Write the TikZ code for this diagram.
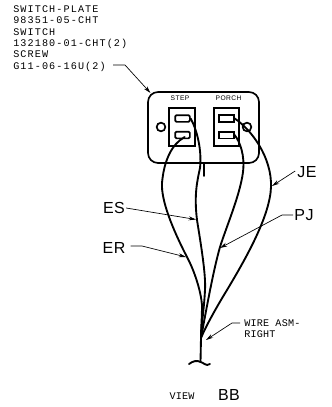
\documentclass[tikz,border=0pt]{standalone}
\usepackage{fontspec}
\setmainfont{Liberation Sans}
\newfontfamily\cadsmall[LetterSpace=6]{Liberation Sans}
\newfontfamily\cadbig[LetterSpace=3]{Liberation Sans}
\newfontfamily\cadmono[LetterSpace=11]{Liberation Mono}
\newfontfamily\cadasm[LetterSpace=2]{Liberation Mono}
\usetikzlibrary{arrows.meta}
\tikzset{
  wire/.style={line width=1.4pt,line cap=round,black},
  heavy/.style={line width=1.25pt,black},
  leader/.style={line width=0.5pt,black,-{Stealth[length=5.5pt,width=3pt]}},
  smalltxt/.style={font=\cadmono\fontsize{7.6}{8.5}\selectfont,inner sep=0pt,align=left,text=black},
  asmtxt/.style={font=\cadasm\fontsize{7.6}{8.5}\selectfont,inner sep=0pt,align=left,text=black},
  tinytxt/.style={font=\cadsmall\fontsize{5}{6}\selectfont,inner sep=0pt,text=black},
  bigtxt/.style={font=\cadbig\fontsize{12}{14}\selectfont,inner sep=0pt,text=black},
}
\begin{document}
\begin{tikzpicture}[x=0.75pt,y=-0.75pt]
\useasboundingbox (0,0) rectangle (332,407);
% plate
\node[draw,heavy,minimum width=83.25pt,minimum height=53.25pt,rounded corners=7.5pt,inner sep=0pt] (plate) at (203.5,127.5) {};
\node[tinytxt] (stepl) at (180,98.5) {STEP};
\node[tinytxt] (porchl) at (228.5,98.5) {PORCH};
\node[draw,heavy,circle,minimum size=6.5pt,inner sep=0pt] (screwL) at (161,127) {};
\node[draw,heavy,circle,minimum size=6.5pt,inner sep=0pt] (screwR) at (247,127) {};
% switches
\node[draw,heavy,minimum width=19.5pt,minimum height=28.5pt,inner sep=0pt] (swL) at (182,127) {};
\node[draw,heavy,minimum width=19pt,minimum height=28.5pt,inner sep=0pt] (swR) at (226.5,127) {};
\node[draw,heavy,minimum width=11pt,minimum height=5pt,inner sep=0pt,rounded corners=1pt] (slotA) at (182.5,118.5) {};
\node[draw,heavy,minimum width=11pt,minimum height=5pt,inner sep=0pt,rounded corners=1pt] (slotB) at (182.5,135) {};
\node[draw,heavy,minimum width=11pt,minimum height=5pt,inner sep=0pt] (slotC) at (226.5,118.5) {};
\node[draw,heavy,minimum width=11pt,minimum height=5pt,inner sep=0pt] (slotD) at (226.5,135) {};
% junction etc.
\coordinate (junc) at (201,338);
\coordinate (tail) at (200.5,362);
\coordinate (stubA) at (204,163);
\coordinate (stubB) at (204,176);
\draw[wire] (stubA) -- (stubB);
% wires
\draw[wire] (slotB.east) ++(-6,2) .. controls (172,144) and (164,160) .. (162,183)
  .. controls (161,200) and (172,228) .. (187,257)
  .. controls (195,272) and (201,292) .. (202,305)
  .. controls (202,318) and (201,328) .. (junc);
\draw[wire] (slotA.east) .. controls (197,130) and (202,150) .. (200,168)
  .. controls (197,182) and (194,195) .. (197,220)
  .. controls (201,245) and (206,275) .. (205,290)
  .. controls (204,310) and (201,328) .. (junc);
\draw[wire] (slotD.east) .. controls (240,142) and (245,155) .. (243,172)
  .. controls (240,195) and (227,225) .. (220,247)
  .. controls (214,268) and (208,300) .. (junc);
\draw[wire] (slotC.east) .. controls (252,130) and (272,158) .. (271,187)
  .. controls (270,215) and (248,255) .. (227,290)
  .. controls (216,308) and (206,326) .. (junc);
\draw[wire] (junc) -- (tail);
\draw[wire] (189,364) .. controls (193,361) and (197,360) .. (tail)
  .. controls (203,362) and (206,367) .. (210,364);
% labels
\node[smalltxt,anchor=north west] (parts) at (13,5.5) {SWITCH-PLATE\\98351-05-CHT\\SWITCH\\132180-01-CHT(2)\\SCREW\\G11-06-16U(2)};
\node[bigtxt] (es) at (114,208) {ES};
\node[bigtxt] (er) at (114,248) {ER};
\node[bigtxt] (pj) at (304,215) {PJ};
\node[bigtxt] (je) at (307,172) {JE};
\node[asmtxt,anchor=west] (wasm) at (244,328.5) {WIRE ASM-\\RIGHT};
\node[asmtxt] (view) at (182,396) {VIEW};
\node[bigtxt] (bb) at (229,394.5) {BB};
% leaders
\coordinate (pEnd) at (125,65);
\coordinate (pStart) at (113,65);
\coordinate (plateTip) at (150.5,93);
\draw[leader] (pStart) -- (pEnd) -- (plateTip);
\coordinate (esTip) at (196,219.5);
\draw[leader] (es.east) ++(1,0) -- (esTip);
\coordinate (erKnee) at (142,246);
\coordinate (erTip) at (186,257);
\draw[leader] (er.east) ++(5,-2) -- (erKnee) -- (erTip);
\coordinate (pjKnee) at (282,215);
\coordinate (pjTip) at (220,248);
\draw[leader] (pj.west) ++(-1,0) -- (pjKnee) -- (pjTip);
\coordinate (jeTip) at (272,186);
\draw[leader] (je.west) ++(-2,-1) -- (jeTip);
\coordinate (waKnee) at (232,323);
\coordinate (waTip) at (206,340);
\draw[leader] (wasm.west) ++(-4,-5.5) -- (waKnee) -- (waTip);
\end{tikzpicture}
\end{document}
